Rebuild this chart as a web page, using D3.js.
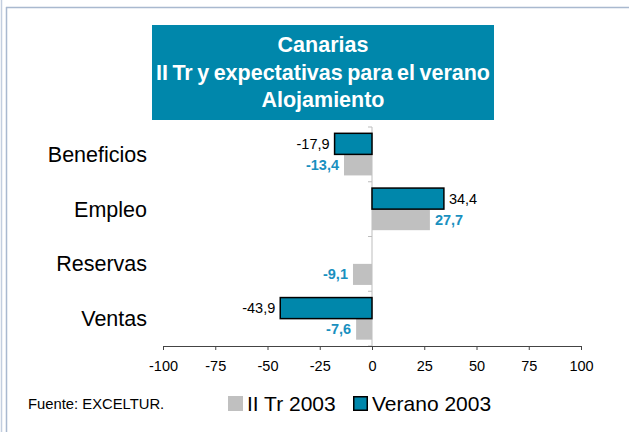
<!DOCTYPE html>
<html>
<head>
<meta charset="utf-8">
<script src="https://cdn.jsdelivr.net/npm/d3@7"></script>
<style>
  body { margin: 0; background: #fff; }
  svg { display: block; font-family: "Liberation Sans", Arial, sans-serif; }
</style>
</head>
<body>
<div id="chart"></div>
<script>
// datos
const categories = ["Beneficios", "Empleo", "Reservas", "Ventas"];
const iiTr2003 = [-13.4, 27.7, -9.1, -7.6];
const verano2003 = [-17.9, 34.4, null, -43.9];
const xTicks = [-100, -75, -50, -25, 0, 25, 50, 75, 100];
const titleLines = ["Canarias", "II Tr y expectativas para el verano", "Alojamiento"];
const seriesNames = ["II Tr 2003", "Verano 2003"];

const width = 629;
const height = 432;
const margin = { top: 127, bottom: 86, left: 163, right: 48 };

const teal = "#0087ab";
const gray = "#c0c0c0";
const labelBlue = "#1990bf";

const svg = d3.select("div#chart")
    .append("svg")
    .attr("width", width)
    .attr("height", height);

// marco
svg.append("line").attr("x1", 1.5).attr("x2", 1.5).attr("y1", 0).attr("y2", height)
    .attr("stroke", "#c3cedf").attr("stroke-width", 1.5);
svg.append("line").attr("x1", 6.5).attr("x2", 6.5).attr("y1", 7).attr("y2", height)
    .attr("stroke", "#a9b9cf").attr("stroke-width", 1.5);
svg.append("line").attr("x1", 6).attr("x2", width).attr("y1", 7.5).attr("y2", 7.5)
    .attr("stroke", "#a9b9cf").attr("stroke-width", 1.5);

// titulo
const titleG = svg.append("g").attr("class", "title");
titleG.append("rect")
    .attr("x", 152).attr("y", 25).attr("width", 342).attr("height", 95)
    .attr("fill", teal);
titleG.selectAll("text")
    .data(titleLines)
    .join("text")
    .attr("x", 323)
    .attr("y", (d, i) => 52 + i * 27.5)
    .attr("text-anchor", "middle")
    .attr("fill", "#fff")
    .attr("font-weight", "bold")
    .attr("font-size", 21.5)
    .attr("word-spacing", -1.5)
    .text(d => d);

// escalas
const x = d3.scaleLinear()
    .domain([-100, 100])
    .range([margin.left, width - margin.right]);

const y = d3.scaleBand()
    .domain(categories)
    .range([margin.top, height - margin.bottom]);

const ySub = d3.scaleBand()
    .domain(["verano", "iitr"])
    .range([0, y.bandwidth()])
    .paddingOuter(0.3);

// eje y (linea gris en el cero)
const yAxisG = svg.append("g")
    .attr("transform", `translate(${x(0)},0)`);
yAxisG.append("line")
    .attr("y1", margin.top).attr("y2", height - margin.bottom)
    .attr("stroke", "#bdbdbd");
yAxisG.selectAll(".sep")
    .data(categories.map(c => y(c)).concat([height - margin.bottom]))
    .join("line")
    .attr("class", "sep")
    .attr("x1", -4).attr("x2", 0)
    .attr("y1", d => d).attr("y2", d => d)
    .attr("stroke", "#bdbdbd");

// etiquetas de categorias
svg.append("g")
    .selectAll("text")
    .data(categories)
    .join("text")
    .attr("x", 147)
    .attr("y", d => y(d) + y.bandwidth() / 2)
    .attr("dy", "0.35em")
    .attr("text-anchor", "end")
    .attr("font-size", 21.5)
    .attr("fill", "#000")
    .text(d => d);

// barras II Tr
const bars = svg.append("g");
bars.selectAll("rect.iitr")
    .data(categories)
    .join("rect")
    .attr("class", "iitr")
    .attr("x", (d, i) => x(Math.min(0, iiTr2003[i])))
    .attr("y", d => y(d) + ySub("iitr"))
    .attr("width", (d, i) => Math.abs(x(iiTr2003[i]) - x(0)))
    .attr("height", ySub.bandwidth())
    .attr("fill", gray);

// barras Verano
const veranoData = categories.map((c, i) => ({ c, v: verano2003[i] })).filter(d => d.v !== null);
bars.selectAll("rect.verano")
    .data(veranoData)
    .join("rect")
    .attr("class", "verano")
    .attr("x", d => x(Math.min(0, d.v)))
    .attr("y", d => y(d.c) + ySub("verano"))
    .attr("width", d => Math.abs(x(d.v) - x(0)))
    .attr("height", ySub.bandwidth())
    .attr("fill", teal)
    .attr("stroke", "#000")
    .attr("stroke-width", 1.5);

const fmt = v => d3.format(".1f")(v).replace(".", ",").replace("−", "-");

// etiquetas de valor
bars.selectAll("text.verano")
    .data(veranoData)
    .join("text")
    .attr("class", "verano")
    .attr("x", d => d.v < 0 ? x(d.v) - 5 : x(d.v) + 5)
    .attr("y", d => y(d.c) + ySub("verano") + ySub.bandwidth() / 2)
    .attr("dy", "0.35em")
    .attr("text-anchor", d => d.v < 0 ? "end" : "start")
    .attr("font-size", 14.5)
    .attr("fill", "#000")
    .text(d => fmt(d.v));

bars.selectAll("text.iitr")
    .data(categories)
    .join("text")
    .attr("class", "iitr")
    .attr("x", (d, i) => iiTr2003[i] < 0 ? x(iiTr2003[i]) - 5 : x(iiTr2003[i]) + 5)
    .attr("y", d => y(d) + ySub("iitr") + ySub.bandwidth() / 2)
    .attr("dy", "0.35em")
    .attr("text-anchor", (d, i) => iiTr2003[i] < 0 ? "end" : "start")
    .attr("font-size", 14.5)
    .attr("font-weight", "bold")
    .attr("fill", labelBlue)
    .text((d, i) => fmt(iiTr2003[i]));

// eje x
const xAxisG = svg.append("g")
    .attr("transform", `translate(0,${height - margin.bottom})`)
    .call(d3.axisBottom(x).tickValues(xTicks).tickSize(4).tickSizeOuter(4).tickPadding(11)
        .tickFormat(d => String(d)));
xAxisG.select(".domain").attr("stroke", "#444");
xAxisG.selectAll(".tick line").attr("stroke", "#444");
xAxisG.selectAll(".tick text")
    .attr("font-size", 14.5)
    .attr("font-family", "Liberation Sans, Arial, sans-serif")
    .attr("fill", "#000");

// fuente
svg.append("text")
    .attr("x", 28).attr("y", 409)
    .attr("font-size", 14.8)
    .attr("fill", "#000")
    .text("Fuente: EXCELTUR.");

// leyenda
const legend = svg.append("g");
const legendX = [228, 353];
legend.append("rect")
    .attr("x", legendX[0]).attr("y", 396).attr("width", 15).attr("height", 15)
    .attr("fill", gray);
legend.append("rect")
    .attr("x", legendX[1] + 0.75).attr("y", 396.75).attr("width", 13.5).attr("height", 13.5)
    .attr("fill", teal).attr("stroke", "#000").attr("stroke-width", 1.5);
legend.selectAll("text")
    .data(seriesNames)
    .join("text")
    .attr("x", (d, i) => legendX[i] + 19)
    .attr("y", 410.5)
    .attr("font-size", 21)
    .attr("fill", "#000")
    .text(d => d);
</script>
</body>
</html>
